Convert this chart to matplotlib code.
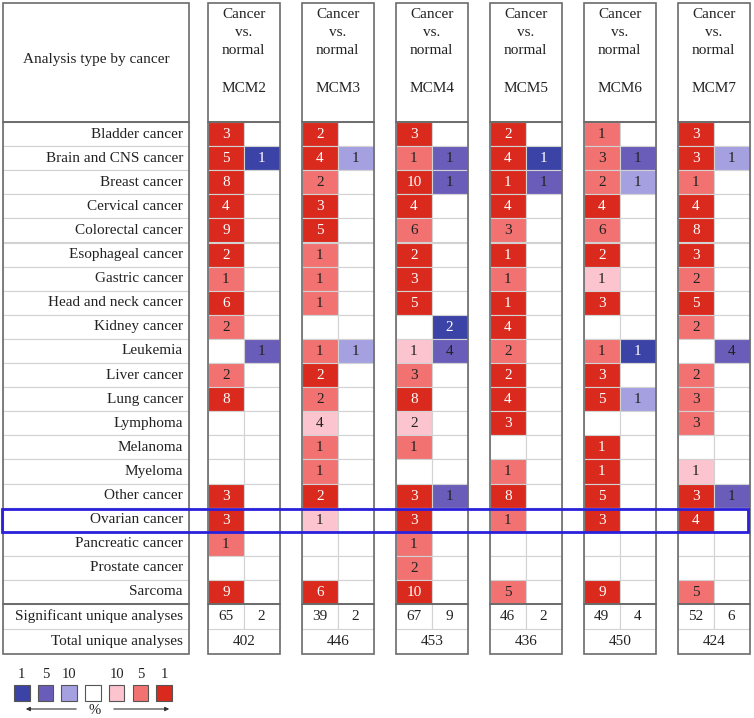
import matplotlib.pyplot as plt
from matplotlib.patches import Rectangle

plt.rcParams['font.family'] = ['Liberation Serif', 'DejaVu Serif']

cancers = ["Bladder cancer", "Brain and CNS cancer", "Breast cancer", "Cervical cancer",
           "Colorectal cancer", "Esophageal cancer", "Gastric cancer", "Head and neck cancer",
           "Kidney cancer", "Leukemia", "Liver cancer", "Lung cancer", "Lymphoma",
           "Melanoma", "Myeloma", "Other cancer", "Ovarian cancer", "Pancreatic cancer",
           "Prostate cancer", "Sarcoma"]
genes = ["MCM2", "MCM3", "MCM4", "MCM5", "MCM6", "MCM7"]

# over-expression counts (red) and their gene rank percentile (1, 5, 10 %)
up = {
    "MCM2": [3, 5, 8, 4, 9, 2, 1, 6, 2, 0, 2, 8, 0, 0, 0, 3, 3, 1, 0, 9],
    "MCM3": [2, 4, 2, 3, 5, 1, 1, 1, 0, 1, 2, 2, 4, 1, 1, 2, 1, 0, 0, 6],
    "MCM4": [3, 1, 10, 4, 6, 2, 3, 5, 0, 1, 3, 8, 2, 1, 0, 3, 3, 1, 2, 10],
    "MCM5": [2, 4, 1, 4, 3, 1, 1, 1, 4, 2, 2, 4, 3, 0, 1, 8, 1, 0, 0, 5],
    "MCM6": [1, 3, 2, 4, 6, 2, 1, 3, 0, 1, 3, 5, 0, 1, 1, 5, 3, 0, 0, 9],
    "MCM7": [3, 3, 1, 4, 8, 3, 2, 5, 2, 0, 2, 3, 3, 0, 1, 3, 4, 0, 0, 5],
}
up_rank = {
    "MCM2": [1, 1, 1, 1, 1, 1, 5, 1, 5, 0, 5, 1, 0, 0, 0, 1, 1, 5, 0, 1],
    "MCM3": [1, 1, 5, 1, 1, 5, 5, 5, 0, 5, 1, 5, 10, 5, 5, 1, 10, 0, 0, 1],
    "MCM4": [1, 5, 1, 1, 5, 1, 1, 1, 0, 10, 5, 1, 10, 5, 0, 1, 1, 5, 5, 1],
    "MCM5": [1, 1, 1, 1, 5, 1, 5, 1, 1, 5, 1, 1, 1, 0, 5, 1, 5, 0, 0, 5],
    "MCM6": [5, 5, 5, 1, 5, 1, 10, 1, 0, 5, 1, 1, 0, 1, 1, 1, 1, 0, 0, 1],
    "MCM7": [1, 1, 5, 1, 1, 1, 5, 1, 5, 0, 5, 5, 5, 0, 10, 1, 1, 0, 0, 5],
}
# under-expression counts (blue)
down = {
    "MCM2": [0, 1, 0, 0, 0, 0, 0, 0, 0, 1, 0, 0, 0, 0, 0, 0, 0, 0, 0, 0],
    "MCM3": [0, 1, 0, 0, 0, 0, 0, 0, 0, 1, 0, 0, 0, 0, 0, 0, 0, 0, 0, 0],
    "MCM4": [0, 1, 1, 0, 0, 0, 0, 0, 2, 4, 0, 0, 0, 0, 0, 1, 0, 0, 0, 0],
    "MCM5": [0, 1, 1, 0, 0, 0, 0, 0, 0, 0, 0, 0, 0, 0, 0, 0, 0, 0, 0, 0],
    "MCM6": [0, 1, 1, 0, 0, 0, 0, 0, 0, 1, 0, 1, 0, 0, 0, 0, 0, 0, 0, 0],
    "MCM7": [0, 1, 0, 0, 0, 0, 0, 0, 0, 4, 0, 0, 0, 0, 0, 1, 0, 0, 0, 0],
}
down_rank = {
    "MCM2": [0, 1, 0, 0, 0, 0, 0, 0, 0, 5, 0, 0, 0, 0, 0, 0, 0, 0, 0, 0],
    "MCM3": [0, 10, 0, 0, 0, 0, 0, 0, 0, 10, 0, 0, 0, 0, 0, 0, 0, 0, 0, 0],
    "MCM4": [0, 5, 5, 0, 0, 0, 0, 0, 1, 5, 0, 0, 0, 0, 0, 5, 0, 0, 0, 0],
    "MCM5": [0, 1, 5, 0, 0, 0, 0, 0, 0, 0, 0, 0, 0, 0, 0, 0, 0, 0, 0, 0],
    "MCM6": [0, 5, 10, 0, 0, 0, 0, 0, 0, 1, 0, 10, 0, 0, 0, 0, 0, 0, 0, 0],
    "MCM7": [0, 10, 0, 0, 0, 0, 0, 0, 0, 5, 0, 0, 0, 0, 0, 5, 0, 0, 0, 0],
}
sig_up = [65, 39, 67, 46, 49, 52]
sig_down = [2, 2, 9, 2, 4, 6]
total = [402, 446, 453, 436, 450, 424]
highlight = "Ovarian cancer"

red_col = {1: "#da291d", 5: "#f27272", 10: "#fcc4ce"}
blue_col = {1: "#3b43a6", 5: "#6a5db9", 10: "#a5a1e1"}
legend_ranks = [1, 5, 10]

FS = 11
DARK = "#6b6b6b"
GRID = "#d2d2d2"
TXT = "#222222"

# layout (pixel units)
HEAD_T, HEAD_B = 3, 122
ROW_H = 24.1
LAB_X0, LAB_X1 = 3, 189
BLK_X0, BLK_STEP, BLK_W = 208, 94, 71.5

fig = plt.figure(figsize=(7.54, 7.18), dpi=100)
ax = fig.add_axes([0, 0, 1, 1])
ax.set_xlim(0, 754)
ax.set_ylim(718, 0)
ax.axis("off")

n = len(cancers)
rows_b = HEAD_B + n * ROW_H
sig_b = rows_b + 25
tot_b = sig_b + 25


def cell(x, y, w, h, fc="white", ec=GRID, lw=0.8, z=1):
    ax.add_patch(Rectangle((x, y), w, h, facecolor=fc, edgecolor=ec, lw=lw, zorder=z))


# left label column
cell(LAB_X0, HEAD_T, LAB_X1 - LAB_X0, HEAD_B - HEAD_T, ec=DARK, lw=1.2, z=3)
ax.text((LAB_X0 + LAB_X1) / 2, (HEAD_T + HEAD_B) / 2 - 3, "Analysis type by cancer",
        ha="center", va="center", fontsize=FS, color=TXT)
for i, name in enumerate(cancers):
    y = HEAD_B + i * ROW_H
    cell(LAB_X0, y, LAB_X1 - LAB_X0, ROW_H)
    ax.text(LAB_X1 - 6, y + ROW_H / 2, name, ha="right", va="center", fontsize=FS, color=TXT)
cell(LAB_X0, HEAD_B, LAB_X1 - LAB_X0, rows_b - HEAD_B, fc="none", ec=DARK, lw=1.2, z=3)
cell(LAB_X0, rows_b, LAB_X1 - LAB_X0, 25, fc="none", ec=GRID)
ax.text(LAB_X1 - 6, rows_b + 12.5, "Significant unique analyses", ha="right", va="center",
        fontsize=FS, color=TXT)
ax.text(LAB_X1 - 6, sig_b + 12.5, "Total unique analyses", ha="right", va="center",
        fontsize=FS, color=TXT)
cell(LAB_X0, rows_b, LAB_X1 - LAB_X0, tot_b - rows_b, fc="none", ec=DARK, lw=1.2, z=3)

# gene blocks
half = BLK_W / 2
for g, gene in enumerate(genes):
    x0 = BLK_X0 + g * BLK_STEP
    cx = x0 + BLK_W / 2
    cell(x0, HEAD_T, BLK_W, HEAD_B - HEAD_T, ec=DARK, lw=1.2, z=3)
    for k, t in enumerate(["Cancer", "vs.", "normal"]):
        ax.text(cx, 15 + 18 * k, t, ha="center", va="center", fontsize=FS, color=TXT)
    ax.text(cx, 88, gene, ha="center", va="center", fontsize=FS, color=TXT)

    for i in range(n):
        y = HEAD_B + i * ROW_H
        v, r = up[gene][i], up_rank[gene][i]
        cell(x0, y, half, ROW_H, fc=red_col[r] if v else "white")
        if v:
            ax.text(x0 + half / 2, y + ROW_H / 2 + 0.5, str(v), ha="center", va="center",
                    fontsize=FS, color="white" if r == 1 else TXT, zorder=4)
        v, r = down[gene][i], down_rank[gene][i]
        cell(x0 + half, y, half, ROW_H, fc=blue_col[r] if v else "white")
        if v:
            ax.text(x0 + 1.5 * half, y + ROW_H / 2 + 0.5, str(v), ha="center", va="center",
                    fontsize=FS, color="white" if r == 1 else TXT, zorder=4)
    cell(x0, HEAD_B, BLK_W, rows_b - HEAD_B, fc="none", ec=DARK, lw=1.2, z=3)

    cell(x0, rows_b, half, 25)
    cell(x0 + half, rows_b, half, 25)
    ax.text(x0 + half / 2, rows_b + 12.5, str(sig_up[g]), ha="center", va="center",
            fontsize=FS, color=TXT)
    ax.text(x0 + 1.5 * half, rows_b + 12.5, str(sig_down[g]), ha="center", va="center",
            fontsize=FS, color=TXT)
    ax.text(cx, sig_b + 12.5, str(total[g]), ha="center", va="center", fontsize=FS, color=TXT)
    cell(x0, rows_b, BLK_W, tot_b - rows_b, fc="none", ec=DARK, lw=1.2, z=3)

# highlighted row
hi = cancers.index(highlight)
ax.add_patch(Rectangle((2, HEAD_B + hi * ROW_H + 1), 746, ROW_H - 1, facecolor="none",
                       edgecolor="#2a20dc", lw=2.0, zorder=6))

# legend
leg_cols = [blue_col[r] for r in legend_ranks] + ["white"] + [red_col[r] for r in legend_ranks[::-1]]
leg_labs = [str(r) for r in legend_ranks] + [""] + [str(r) for r in legend_ranks[::-1]]
for k, (c, lab) in enumerate(zip(leg_cols, leg_labs)):
    lx = 14 + 23.7 * k
    ax.add_patch(Rectangle((lx, 685), 15.5, 16, facecolor=c, edgecolor="#555555", lw=0.8))
    ax.text(lx + 7.75, 675, lab, ha="center", va="center", fontsize=FS - 0.5, color=TXT)
ax.annotate("", xy=(23, 709), xytext=(79, 709),
            arrowprops=dict(arrowstyle="-|>", color="#333333", lw=0.8, mutation_scale=6))
ax.annotate("", xy=(172, 709), xytext=(111, 709),
            arrowprops=dict(arrowstyle="-|>", color="#333333", lw=0.8, mutation_scale=6))
ax.text(95, 710, "%", ha="center", va="center", fontsize=FS - 0.5, color=TXT)

fig.savefig("out.png", dpi=100)
